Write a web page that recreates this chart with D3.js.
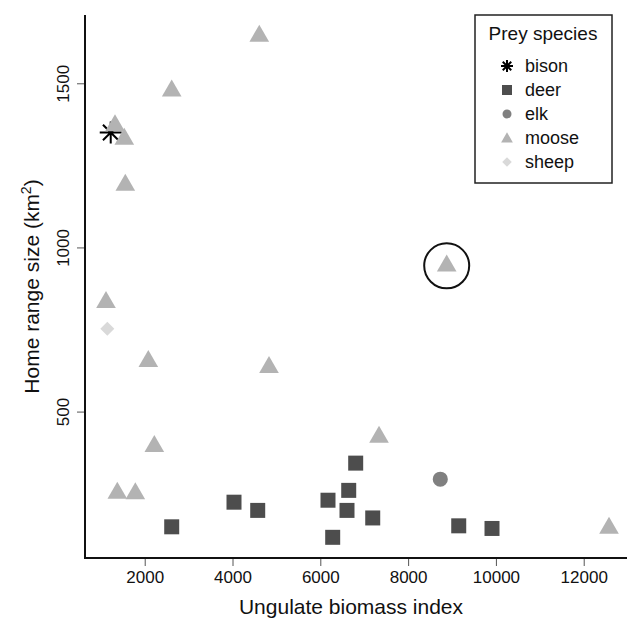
<!DOCTYPE html>
<html>
<head>
<meta charset="utf-8">
<script src="https://cdn.jsdelivr.net/npm/d3@7"></script>
<style>
  html, body { margin: 0; padding: 0; background: #fff; }
  svg { display: block; font-family: "Liberation Sans", Arial, Helvetica, sans-serif; }
</style>
</head>
<body>
<svg id="chart" width="627" height="624"></svg>
<script>
// ---- data ----
const species = ["bison", "deer", "elk", "moose", "sheep"];
const bisonX = [1226];
const bisonY = [1350];
const deerX = [2615, 4034, 4574, 6806, 6647, 6175, 6608, 6282, 7194, 9153, 9911];
const deerY = [149, 224, 199, 343, 260, 230, 199, 117, 176, 152, 144];
const elkX = [8733];
const elkY = [294];
const mooseX = [4610, 2615, 1323, 1535, 1558, 1118, 2082, 4831, 2219, 1376, 1786, 7337, 8879, 12576];
const mooseY = [1644, 1477, 1371, 1330, 1190, 833, 653, 635, 394, 252, 250, 422, 944, 145];
const sheepX = [1148];
const sheepY = [752];
const highlightX = [8879];
const highlightY = [944];
const xTicks = [2000, 4000, 6000, 8000, 10000, 12000];
const yTicks = [500, 1000, 1500];

// ---- layout ----
const svg = d3.select("#chart");
const mLeft = 85, mRight = 627, mTop = 15, mBottom = 558;
const x = d3.scaleLinear().domain([640, 12986]).range([mLeft, mRight]);
const y = d3.scaleLinear().domain([54, 1708]).range([mBottom, mTop]);

const colors = { bison: "#000000", deer: "#4d4d4d", elk: "#808080", moose: "#b3b3b3", sheep: "#d9d9d9" };

// axes
const xAxis = svg.append("g").attr("transform", `translate(0,${mBottom})`)
  .call(d3.axisBottom(x).tickValues(xTicks).tickSize(8).tickPadding(5).tickFormat(d3.format("d")));
const yAxis = svg.append("g").attr("transform", `translate(${mLeft},0)`)
  .call(d3.axisLeft(y).tickValues(yTicks).tickSize(8).tickPadding(5).tickFormat(d3.format("d")));
[xAxis, yAxis].forEach(g => {
  g.select(".domain").remove();
  g.selectAll(".tick line").attr("stroke", "#555").attr("stroke-width", 1);
  g.selectAll(".tick text").attr("fill", "#111").style("font-size", "17px")
    .style("font-family", '"Liberation Sans", Arial, sans-serif');
});
yAxis.selectAll(".tick text")
  .attr("text-anchor", "middle")
  .attr("transform", "rotate(-90)")
  .attr("x", 0).attr("y", -16).attr("dy", "0");

// L-shaped frame
svg.append("path")
  .attr("d", `M${mLeft},${mTop} L${mLeft},${mBottom} L${mRight},${mBottom}`)
  .attr("fill", "none").attr("stroke", "#111").attr("stroke-width", 2);

// axis titles
svg.append("text").attr("x", 351).attr("y", 614).attr("text-anchor", "middle")
  .style("font-size", "21px").attr("fill", "#111").text("Ungulate biomass index");
const yt = svg.append("text").attr("transform", `translate(39,${(mTop + mBottom) / 2}) rotate(-90)`)
  .attr("text-anchor", "middle").style("font-size", "21px").attr("fill", "#111");
yt.append("tspan").text("Home range size (km");
yt.append("tspan").attr("dy", -8).style("font-size", "14px").text("2");
yt.append("tspan").attr("dy", 8).text(")");

// symbol helpers
const sym = (type, size) => d3.symbol().type(type).size(size)();
function star(g, cx, cy, r, w) {
  const p = d3.path();
  for (let k = 0; k < 4; k++) {
    const a = k * Math.PI / 4;
    p.moveTo(cx - r * Math.cos(a), cy - r * Math.sin(a));
    p.lineTo(cx + r * Math.cos(a), cy + r * Math.sin(a));
  }
  g.append("path").attr("d", p.toString()).attr("stroke", "#000").attr("stroke-width", w).attr("fill", "none");
}

const plot = svg.append("g");
// bison
bisonX.forEach((v, i) => star(plot, x(v), y(bisonY[i]), 11, 2));
// deer
plot.selectAll(".deer").data(deerX).join("path")
  .attr("d", sym(d3.symbolSquare, 225))
  .attr("transform", (d, i) => `translate(${x(d)},${y(deerY[i])})`)
  .attr("fill", colors.deer);
// elk
plot.selectAll(".elk").data(elkX).join("path")
  .attr("d", sym(d3.symbolCircle, 180))
  .attr("transform", (d, i) => `translate(${x(d)},${y(elkY[i])})`)
  .attr("fill", colors.elk);
// moose
plot.selectAll(".moose").data(mooseX).join("path")
  .attr("d", sym(d3.symbolTriangle, 167))
  .attr("transform", (d, i) => `translate(${x(d)},${y(mooseY[i])})`)
  .attr("fill", colors.moose);
// sheep
plot.selectAll(".sheep").data(sheepX).join("path")
  .attr("d", sym(d3.symbolSquare, 98))
  .attr("transform", (d, i) => `translate(${x(d)},${y(sheepY[i])}) rotate(45)`)
  .attr("fill", colors.sheep);
// highlight circle
plot.selectAll(".hl").data(highlightX).join("circle")
  .attr("cx", d => x(d)).attr("cy", (d, i) => y(highlightY[i])).attr("r", 22.5)
  .attr("fill", "none").attr("stroke", "#111").attr("stroke-width", 2);

// legend
const lg = svg.append("g");
lg.append("rect").attr("x", 475).attr("y", 15).attr("width", 137).attr("height", 168)
  .attr("fill", "#fff").attr("stroke", "#222").attr("stroke-width", 1.5);
lg.append("text").attr("x", 543).attr("y", 40).attr("text-anchor", "middle")
  .style("font-size", "19px").attr("fill", "#111").text("Prey species");
const rowY = [66, 90, 114, 138, 162];
species.forEach((s, i) => {
  const cy = rowY[i];
  if (s === "bison") star(lg, 507, cy, 6, 2);
  else if (s === "deer") lg.append("path").attr("d", sym(d3.symbolSquare, 100)).attr("transform", `translate(507,${cy})`).attr("fill", colors.deer);
  else if (s === "elk") lg.append("path").attr("d", sym(d3.symbolCircle, 64)).attr("transform", `translate(507,${cy})`).attr("fill", colors.elk);
  else if (s === "moose") lg.append("path").attr("d", sym(d3.symbolTriangle, 60)).attr("transform", `translate(507,${cy + 1})`).attr("fill", colors.moose);
  else lg.append("path").attr("d", sym(d3.symbolSquare, 45)).attr("transform", `translate(507,${cy}) rotate(45)`).attr("fill", colors.sheep);
  lg.append("text").attr("x", 525).attr("y", cy + 6).style("font-size", "18px").attr("fill", "#111").text(s);
});
</script>
</body>
</html>
